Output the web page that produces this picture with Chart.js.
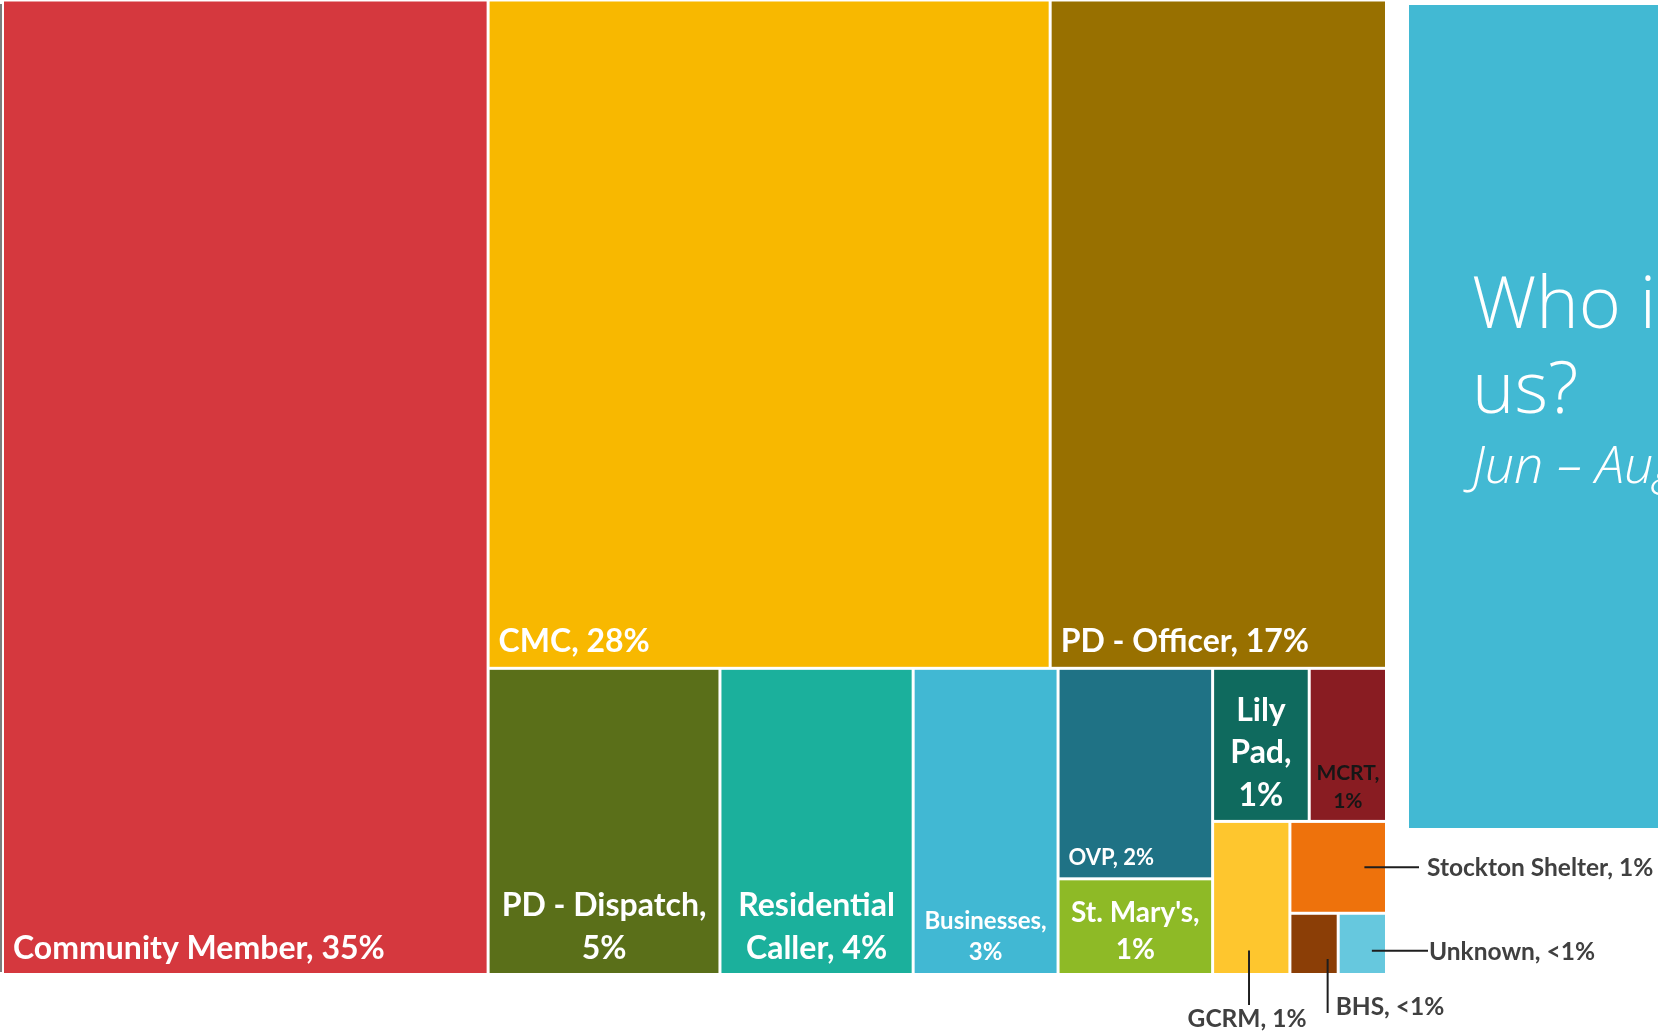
<!DOCTYPE html>
<html>
<head>
<meta charset="utf-8">
<title>Who is calling us?</title>
<script src="https://cdn.jsdelivr.net/npm/chart.js@4.4.1/dist/chart.umd.min.js"></script>
<style>
  html, body { margin: 0; padding: 0; background: #ffffff; overflow: hidden; }
  #page { position: relative; width: 1658px; height: 1036px; overflow: hidden; background: #ffffff; }
  #edge { position: absolute; left: 0; top: 4px; width: 2px; height: 968px; background: #7d7d7d; }
  #panel { position: absolute; left: 1409px; top: 5px; width: 420px; height: 823px; background: #42B9D3; overflow: hidden; }
  .ttl { position: absolute; left: 63px; white-space: nowrap; line-height: 1; color: #ffffff;
         font-family: "Open Sans", "DejaVu Sans", sans-serif; font-weight: 300; }
  #t1 { top: 259px; font-size: 72px; }
  #t2 { top: 344px; font-size: 72px; }
  #t3 { top: 432px; font-size: 52px; font-style: italic; }
  #chartBox { position: absolute; left: 0; top: 0; width: 1658px; height: 1036px; }
</style>
</head>
<body>
<div id="page">
  <div id="edge"></div>
  <div id="panel">
    <div class="ttl" id="t1">Who is calling</div>
    <div class="ttl" id="t2">us?</div>
    <div class="ttl" id="t3">Jun – Aug</div>
  </div>
  <div id="chartBox"><canvas id="treemap"></canvas></div>
</div>
<script>
// Referral sources and number of calls from each
const categories = ['Community Member', 'CMC', 'PD - Officer', 'PD - Dispatch', 'Residential Caller',
  'Businesses', 'OVP', "St. Mary's", 'Lily Pad', 'MCRT', 'GCRM', 'Stockton Shelter', 'BHS', 'Unknown'];
const callCounts = [160, 127, 76, 24, 20, 15, 11, 5, 5, 4, 4, 3, 1, 1];
const cellColors = ['#D5383E', '#F8B800', '#987000', '#5A6F19', '#1BB09C', '#41B8D3', '#1F7285',
  '#8EBA26', '#0F6A5E', '#891C22', '#FEC62E', '#EE720C', '#8B3E06', '#66C8DE'];

// How the tiles nest: 'h' places children side by side, 'v' stacks them.
const splitPlan = ['h', 0,
  ['v',
    ['h', 1, 2],
    ['h', 3, 4, 5,
      ['h',
        ['v', 6, 7],
        ['v',
          ['h', 8, 9],
          ['h', 10, ['v', 11, ['h', 12, 13]]]]]]]];

// Label styling
const GAP = 3;
const labelFontSize = { 'Businesses': 24, 'OVP': 22, "St. Mary's": 28, 'MCRT': 21 };
const labelInk = { 'MCRT': '#161616' };
const DEFAULT_LABEL_SIZE = 32;
const CALLOUT_SIZE = 24.5;
// Leader lines for tiles too small to hold their own label
const callouts = {
  'Stockton Shelter': { fx: 0.78, fy: 0.50, dir: 'right', len: 34, gap: 8 },
  'Unknown':          { fx: 0.71, fy: 0.62, dir: 'right', len: 43, gap: 1 },
  'GCRM':             { fx: 0.47, fy: 0.85, dir: 'down', len: 32, place: 'below' },
  'BHS':              { fx: 0.80, fy: 0.76, dir: 'down', len: 40, place: 'side' }
};

const totalCalls = callCounts.reduce((a, b) => a + b, 0);

function nodeSum(node) {
  if (typeof node === 'number') return callCounts[node];
  return node.slice(1).reduce((s, c) => s + nodeSum(c), 0);
}

// Slice the unit square following splitPlan, areas proportional to counts
function layoutNode(node, r, out) {
  if (typeof node === 'number') { out[node] = r; return; }
  const dir = node[0];
  const kids = node.slice(1);
  const total = nodeSum(node);
  let pos = dir === 'h' ? r.x0 : r.y0;
  kids.forEach(k => {
    const frac = nodeSum(k) / total;
    if (dir === 'h') {
      const w = (r.x1 - r.x0) * frac;
      layoutNode(k, { x0: pos, x1: pos + w, y0: r.y0, y1: r.y1 }, out);
      pos += w;
    } else {
      const h = (r.y1 - r.y0) * frac;
      layoutNode(k, { x0: r.x0, x1: r.x1, y0: pos, y1: pos + h }, out);
      pos += h;
    }
  });
}

function percentText(v) {
  const p = v / totalCalls * 100;
  return p < 0.5 ? '<1%' : Math.round(p) + '%';
}

function font(size) { return 'bold ' + size + 'px Lato, "Open Sans", sans-serif'; }

function wrapWords(ctx, text, maxW) {
  const words = text.split(' ');
  const lines = [];
  let cur = '';
  words.forEach(w => {
    const trial = cur ? cur + ' ' + w : w;
    if (cur && ctx.measureText(trial).width > maxW) {
      lines.push(cur);
      cur = w;
    } else {
      cur = trial;
    }
  });
  if (cur) lines.push(cur);
  return lines;
}

const treemapPlugin = {
  id: 'treemapTiles',
  afterDatasetsDraw(chart) {
    const { ctx } = chart;
    const xs = chart.scales.x, ys = chart.scales.y;
    const cells = [];
    layoutNode(splitPlan, { x0: 0, x1: 1, y0: 0, y1: 1 }, cells);

    const boxes = cells.map(c => ({
      left: xs.getPixelForValue(c.x0) + GAP / 2,
      right: xs.getPixelForValue(c.x1) - GAP / 2,
      top: ys.getPixelForValue(c.y0) + GAP / 2,
      bottom: ys.getPixelForValue(c.y1) - GAP / 2
    }));

    ctx.save();
    boxes.forEach((b, i) => {
      ctx.fillStyle = cellColors[i];
      ctx.fillRect(b.left, b.top, b.right - b.left, b.bottom - b.top);
    });

    ctx.textBaseline = 'alphabetic';
    boxes.forEach((b, i) => {
      const name = categories[i];
      const text = name + ', ' + percentText(callCounts[i]);
      const co = callouts[name];
      if (co) {
        const ax = b.left + (b.right - b.left) * co.fx;
        const ay = b.top + (b.bottom - b.top) * co.fy;
        ctx.strokeStyle = '#1e1e1e';
        ctx.lineWidth = 2;
        ctx.beginPath();
        ctx.font = font(CALLOUT_SIZE);
        ctx.fillStyle = '#404040';
        if (co.dir === 'right') {
          const ex = b.right + co.len;
          ctx.moveTo(ax, ay); ctx.lineTo(ex, ay); ctx.stroke();
          ctx.textAlign = 'left';
          ctx.fillText(text, ex + co.gap, ay + CALLOUT_SIZE * 0.36);
        } else {
          const ey = b.bottom + co.len;
          ctx.moveTo(ax, ay); ctx.lineTo(ax, ey); ctx.stroke();
          if (co.place === 'below') {
            ctx.textAlign = 'center';
            ctx.fillText(text, ax - 2, ey + 21.5);
          } else {
            ctx.textAlign = 'left';
            ctx.fillText(text, ax + 8, ey + 2);
          }
        }
        return;
      }
      const size = labelFontSize[name] || DEFAULT_LABEL_SIZE;
      ctx.font = font(size);
      ctx.fillStyle = labelInk[name] || '#ffffff';
      const pad = 9;
      const lines = wrapWords(ctx, text, b.right - b.left - 2 * pad);
      const lineH = size * 1.32;
      const base = b.bottom - (8 + size * 0.2);
      lines.forEach((ln, k) => {
        const yLine = base - (lines.length - 1 - k) * lineH;
        if (lines.length === 1) {
          ctx.textAlign = 'left';
          ctx.fillText(ln, b.left + pad, yLine);
        } else {
          ctx.textAlign = 'center';
          ctx.fillText(ln, (b.left + b.right) / 2, yLine);
        }
      });
    });
    ctx.restore();
  }
};

new Chart(document.getElementById('treemap'), {
  type: 'scatter',
  data: { datasets: [{ label: 'Calls', data: [] }] },
  options: {
    responsive: true,
    maintainAspectRatio: false,
    animation: false,
    events: [],
    layout: { padding: { left: 2.5, top: 0, right: 271.5, bottom: 61.5 } },
    scales: {
      x: { type: 'linear', min: 0, max: 1, display: false },
      y: { type: 'linear', min: 0, max: 1, reverse: true, display: false }
    },
    plugins: { legend: { display: false }, tooltip: { enabled: false } }
  },
  plugins: [treemapPlugin]
});
</script>
</body>
</html>
